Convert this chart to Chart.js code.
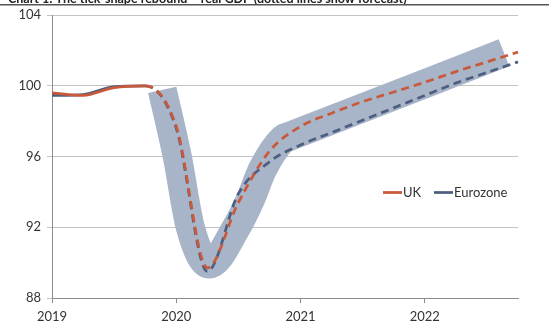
<!DOCTYPE html>
<html>
<head>
<meta charset="utf-8">
<script src="https://cdn.jsdelivr.net/npm/chart.js@4.4.1/dist/chart.umd.min.js"></script>
<style>
  html, body { margin: 0; padding: 0; background: #ffffff; }
  #wrap { position: relative; width: 549px; height: 324px; }
</style>
</head>
<body>
<div id="wrap"><canvas id="c" width="549" height="324"></canvas></div>
<script>
// ---- data ----
const chartTitle = 'Chart 1: The tick-shape rebound \u2013 real GDP (dotted lines show forecast)';
const quarters = [2019, 2019.25, 2019.5, 2019.75, 2020, 2020.25, 2020.5, 2020.75,
                  2021, 2021.25, 2021.5, 2021.75, 2022, 2022.25, 2022.5, 2022.75];
const ukGDP = [99.6, 99.45, 99.9, 100.0, 97.7, 89.7, 93.4, 96.3,
               97.7, 98.45, 99.1, 99.65, 100.2, 100.8, 101.35, 101.9];
const eurozoneGDP = [99.45, 99.5, 99.95, 100.0, 97.6, 89.5, 93.9, 95.7,
                     96.65, 97.35, 98.05, 98.75, 99.45, 100.15, 100.75, 101.35];
const forecastStart = 2019.75;
// centre line of the shaded "tick" band
const bandYears = [2019.887, 2020.008, 2020.113, 2020.266, 2020.484, 2020.597, 2020.694, 2020.863, 2020.90, 2022.637];
const bandValues = [99.77, 96.0, 92.0, 89.92, 92.0, 93.58, 95.27, 97.01, 97.11, 101.86];
const xTickYears = [2019, 2020, 2021, 2022];
const yTickValues = [88, 92, 96, 100, 104];
const seriesLabels = ['UK', 'Eurozone'];

const UK_COLOR = '#c9593a';
const EZ_COLOR = '#4d5f80';
const BAND_COLOR = '#a8b5c9';
const FONT = 'Lato, "Open Sans", sans-serif';

const toXY = (xs, ys) => xs.map((x, i) => ({ x: x, y: ys[i] }));
const dashSeg = { borderDash: ctx => (ctx.p0.parsed.x >= forecastStart - 1e-9 ? [8, 5] : undefined) };

const titlePlugin = {
  id: 'cutTitle',
  beforeDraw(chart) {
    const ctx = chart.ctx;
    ctx.save();
    let size = 11;
    ctx.font = 'bold ' + size + 'px ' + FONT;
    const w = ctx.measureText(chartTitle).width;
    size = size * 399 / w;
    ctx.font = 'bold ' + size.toFixed(2) + 'px ' + FONT;
    ctx.fillStyle = '#222';
    ctx.textBaseline = 'alphabetic';
    ctx.fillText(chartTitle, 8, 2.5);
    ctx.strokeStyle = '#555';
    ctx.lineWidth = 1.5;
    ctx.beginPath();
    ctx.moveTo(0, 4.75);
    ctx.lineTo(549, 4.75);
    ctx.stroke();
    ctx.restore();
  }
};

const legendPlugin = {
  id: 'innerLegend',
  afterDatasetsDraw(chart) {
    const ctx = chart.ctx;
    const items = [
      { label: seriesLabels[0], color: UK_COLOR, x: 383 },
      { label: seriesLabels[1], color: EZ_COLOR, x: 434 }
    ];
    const y = 192.5;
    ctx.save();
    ctx.font = '13px ' + FONT;
    ctx.textBaseline = 'middle';
    ctx.fillStyle = '#333';
    items.forEach(it => {
      ctx.strokeStyle = it.color;
      ctx.lineWidth = 2.75;
      ctx.beginPath();
      ctx.moveTo(it.x, y);
      ctx.lineTo(it.x + 19, y);
      ctx.stroke();
      ctx.fillText(it.label, it.x + 20, y);
    });
    ctx.restore();
  }
};

new Chart(document.getElementById('c'), {
  type: 'line',
  data: {
    datasets: [
      {
        label: seriesLabels[0],
        data: toXY(quarters, ukGDP),
        borderColor: UK_COLOR,
        borderWidth: 2.75,
        pointRadius: 0,
        cubicInterpolationMode: 'monotone',
        segment: dashSeg,
        order: 1,
        clip: false
      },
      {
        label: seriesLabels[1],
        data: toXY(quarters, eurozoneGDP),
        borderColor: EZ_COLOR,
        borderWidth: 2.75,
        pointRadius: 0,
        cubicInterpolationMode: 'monotone',
        segment: dashSeg,
        order: 2,
        clip: false
      },
      {
        label: 'range',
        data: toXY(bandYears, bandValues),
        borderColor: BAND_COLOR,
        borderWidth: 29,
        borderCapStyle: 'butt',
        borderJoinStyle: 'round',
        cubicInterpolationMode: 'monotone',
        pointRadius: 0,
        order: 3,
        clip: false
      }
    ]
  },
  options: {
    responsive: false,
    animation: false,
    devicePixelRatio: 1,
    layout: { padding: { top: 15, right: 31, bottom: 0, left: 0 } },
    plugins: {
      legend: { display: false },
      tooltip: { enabled: false },
      title: { display: false }
    },
    scales: {
      x: {
        type: 'linear',
        min: 2019,
        max: 2022.75,
        afterBuildTicks: s => { s.ticks = xTickYears.map(v => ({ value: v })); },
        afterFit: s => { s.height = 26; },
        grid: { drawOnChartArea: false, drawTicks: true, tickLength: 5, color: '#8c8c8c', lineWidth: 1 },
        border: { display: true, color: '#8c8c8c', width: 1 },
        ticks: {
          padding: 6,
          color: '#333',
          font: { family: FONT, size: 13 },
          callback: v => String(v),
          maxRotation: 0
        }
      },
      y: {
        type: 'linear',
        min: 88,
        max: 104,
        afterBuildTicks: s => { s.ticks = yTickValues.map(v => ({ value: v })); },
        afterFit: s => { s.width = 52; },
        grid: { color: '#c4c4c4', lineWidth: 1, drawTicks: true, tickLength: 5 },
        border: { display: true, color: '#8c8c8c', width: 1 },
        ticks: {
          padding: 6,
          color: '#333',
          font: { family: FONT, size: 13 },
          callback: v => String(v)
        }
      }
    }
  },
  plugins: [titlePlugin, legendPlugin]
});
</script>
</body>
</html>
